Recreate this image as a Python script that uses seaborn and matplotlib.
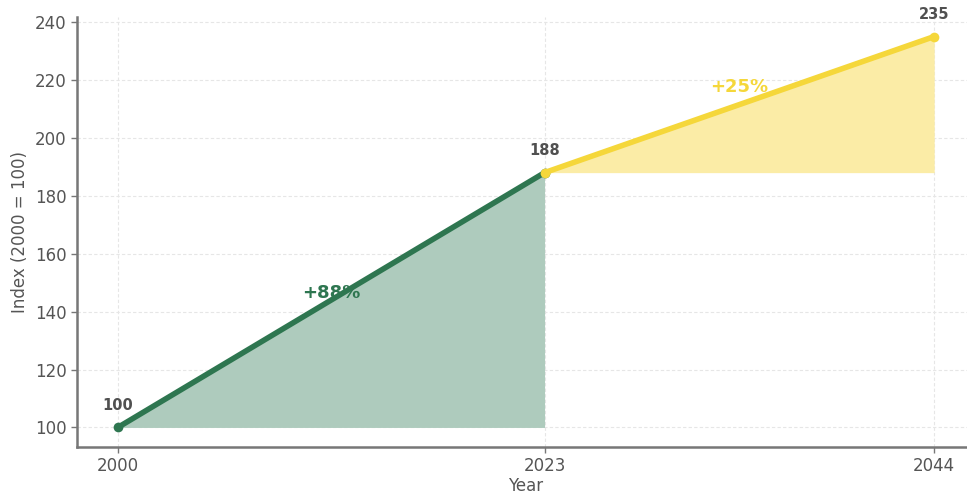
import matplotlib
matplotlib.use("Agg")
import matplotlib.pyplot as plt
import seaborn as sns
import pandas as pd

years_hist = [2000, 2023]
index_hist = [100, 188]
years_proj = [2023, 2044]
index_proj = [188, 235]
growth_labels = ["+88%", "+25%"]
tick_years = [2000, 2023, 2044]
yticks = [100, 120, 140, 160, 180, 200, 220, 240]

sns.set_theme(style="white")
plt.rcParams['font.family'] = ['DejaVu Sans']

green = "#2e7650"
green_fill = "#aecbbd"
yellow = "#f5d73a"
yellow_fill = "#fbeca6"
grey = "#555555"

fig = plt.figure(figsize=(9.67, 4.97), dpi=100)
ax = fig.add_axes([77/967, 1 - 447/497, (975 - 77)/967, (447 - 17)/497])

df_h = pd.DataFrame({"Year": years_hist, "Index": index_hist})
df_p = pd.DataFrame({"Year": years_proj, "Index": index_proj})

ax.fill_between(years_hist, [index_hist[0]] * len(years_hist), index_hist,
                color=green_fill, linewidth=0, zorder=1)
ax.fill_between(years_proj, [index_proj[0]] * len(years_proj), index_proj,
                color=yellow_fill, linewidth=0, zorder=1)

sns.lineplot(data=df_h, x="Year", y="Index", ax=ax, color=green, linewidth=4,
             marker="o", markersize=7, markeredgewidth=0, zorder=3)
sns.lineplot(data=df_p, x="Year", y="Index", ax=ax, color=yellow, linewidth=4,
             marker="o", markersize=7, markeredgewidth=0, zorder=3)

ax.set_xlim(1997.8, 2046.2)
ax.set_ylim(93.25, 241.75)
ax.set_xticks(tick_years)
ax.set_yticks(yticks)

for x, y in [(years_hist[0], index_hist[0]), (years_hist[1], index_hist[1]), (years_proj[1], index_proj[1])]:
    ax.text(x, y + 5, f"{y}", ha="center", va="bottom", fontsize=10.5,
            fontweight="bold", color="#505050", clip_on=False)

ax.text(2011.5, 146.5, growth_labels[0], ha="center", va="center", fontsize=13,
        fontweight="bold", color=green, zorder=2)
ax.text(2033.5, 217.5, growth_labels[1], ha="center", va="center", fontsize=13,
        fontweight="bold", color=yellow, zorder=2)

ax.grid(True, color="#e6e6e6", linestyle=(0, (3, 2)), linewidth=0.8)
ax.set_axisbelow(True)
for s in ["top", "right"]:
    ax.spines[s].set_visible(False)
for s in ["left", "bottom"]:
    ax.spines[s].set_color("#777777")
    ax.spines[s].set_linewidth(1.8)

ax.tick_params(axis="both", which="both", length=4, width=1, color="#777777",
               labelsize=12, labelcolor=grey, direction="out",
               bottom=True, left=True)
ax.set_xlabel("Year", fontsize=12, color=grey, labelpad=1)
ax.set_ylabel("Index (2000 = 100)", fontsize=12, color=grey, labelpad=4)

fig.savefig("out.png", dpi=100)
